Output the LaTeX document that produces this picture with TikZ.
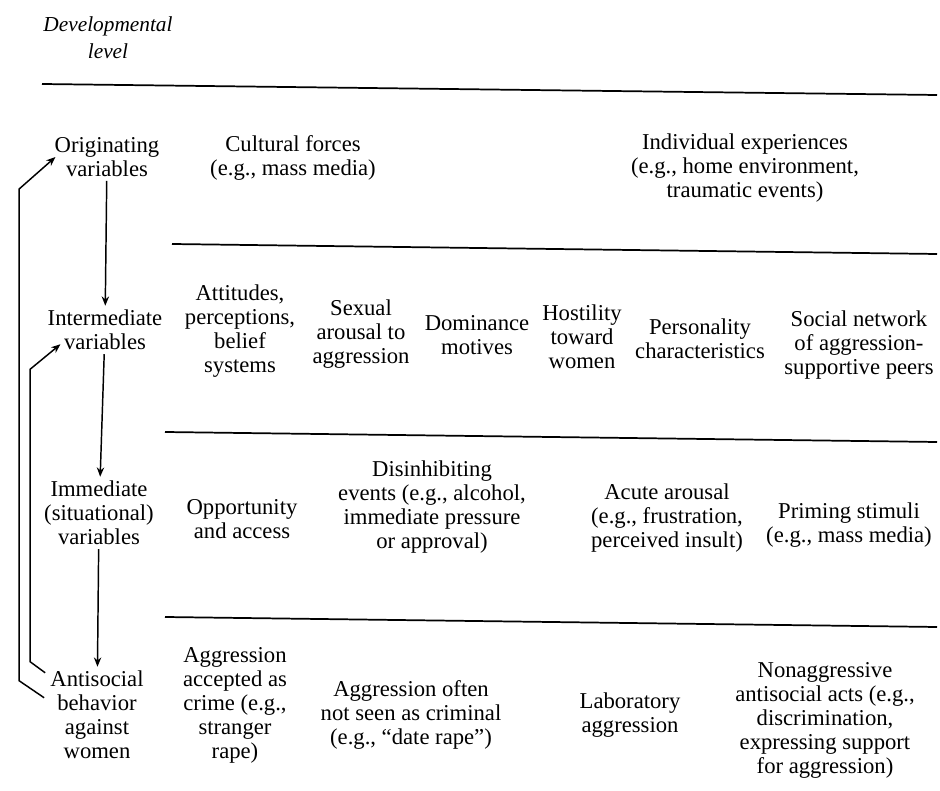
\documentclass[tikz,border=0pt]{standalone}
\usepackage{fontspec}
\setmainfont{Liberation Serif}
\usepackage{tikz}
\usetikzlibrary{arrows.meta,calc}
\tikzset{
lvl/.style={align=center,inner sep=3pt,font=\fontsize{17}{18}\selectfont},
rowline/.style={line width=1.3pt},
flow/.style={line width=1.1pt,-{Stealth[length=7pt,width=5.5pt]}}
}
\begin{document}
\begin{tikzpicture}[x=0.75pt,y=-0.75pt]
\useasboundingbox (0,0) rectangle (940,791);
\node[lvl,font=\fontsize{16}{20}\selectfont\itshape] (head) at (108,38) {Developmental\\level};
\draw[rowline](42,84)--(937,95);
\draw[rowline](172,244)--(937,254);
\draw[rowline](165,432)--(937,442);
\draw[rowline](165,617)--(937,627);
\node[lvl] (orig) at (107,157) {Originating\\variables};
\node[lvl] (inter) at (105,330) {Intermediate\\variables};
\node[lvl] (immed) at (99,513) {Immediate\\(situational)\\variables};
\node[lvl] (anti) at (97,715) {Antisocial\\behavior\\against\\women};
\draw[flow](orig)--(inter);
\draw[flow](inter)--(immed);
\draw[flow](immed)--(anti);
\draw[flow]($(anti.north west)+(-2,31)$)--++(-25,-17)coordinate(outLow)
--($(outLow |- orig.west)+(0,32)$)--($(orig.west)+(5,0)$);
\draw[flow]($(anti.north west)+(-1,6)$)--++(-15,-11)coordinate(inLow)
--($(inLow |- inter.south)+(0,15)$)--($(inter.south west)+(17,-10)$);
\node[lvl] (cult) at (293,158) {Cultural forces\\(e.g., mass media)};
\node[lvl] (indiv) at (745,168) {Individual experiences\\(e.g., home environment,\\traumatic events)};
\node[lvl] (attit) at (240,331) {Attitudes,\\perceptions,\\belief\\systems};
\node[lvl] (arous) at (361,334) {Sexual\\arousal to\\aggression};
\node[lvl] (domin) at (477,335) {Dominance\\motives};
\node[lvl] (host) at (582,337) {Hostility\\toward\\women};
\node[lvl] (pers) at (700,339) {Personality\\characteristics};
\node[lvl] (peers) at (859,345) {Social network\\of aggression-\\supportive peers};
\node[lvl] (opp) at (242,519) {Opportunity\\and access};
\node[lvl] (disin) at (432,507) {Disinhibiting\\events (e.g., alcohol,\\immediate pressure\\or approval)};
\node[lvl] (acute) at (667,518) {Acute arousal\\(e.g., frustration,\\perceived insult)};
\node[lvl] (prime) at (849,525) {Priming stimuli\\(e.g., mass media)};
\node[lvl] (crime) at (235,705) {Aggression\\accepted as\\crime (e.g.,\\stranger\\rape)};
\node[lvl] (often) at (411,715) {Aggression often\\not seen as criminal\\(e.g., “date rape”)};
\node[lvl] (lab) at (630,715) {Laboratory\\aggression};
\node[lvl] (nonag) at (825,720) {Nonaggressive\\antisocial acts (e.g.,\\discrimination,\\expressing support\\for aggression)};
\end{tikzpicture}
\end{document}
